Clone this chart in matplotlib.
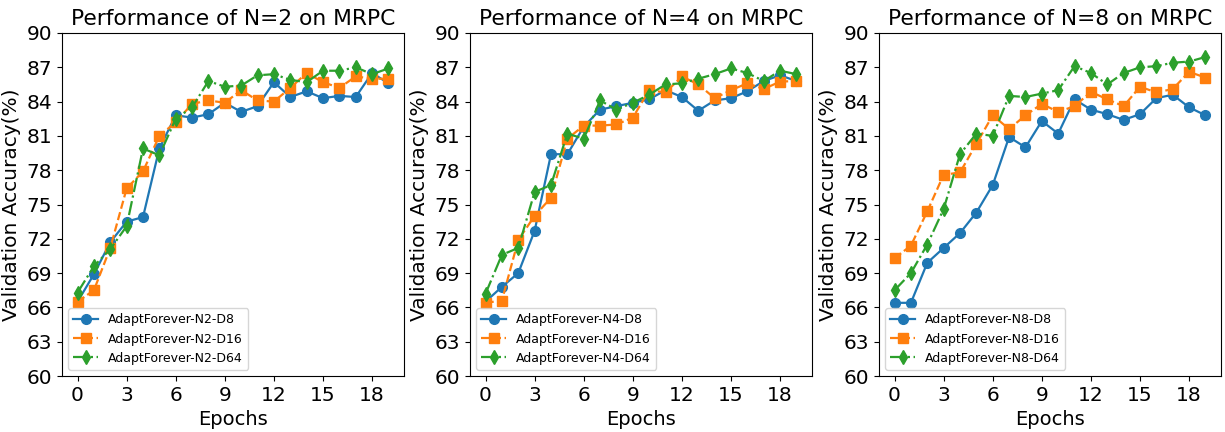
import numpy as np
import matplotlib
matplotlib.use("Agg")
import matplotlib.pyplot as plt

epochs = list(range(20))

n2_d8 = [66.5, 68.9, 71.7, 73.5, 73.9, 79.9, 82.8, 82.6, 82.9, 83.9,
         83.1, 83.6, 85.7, 84.4, 84.9, 84.3, 84.5, 84.4, 86.5, 85.6]
n2_d16 = [66.5, 67.5, 71.2, 76.4, 77.9, 81.0, 82.2, 83.8, 84.1, 83.9,
          85.0, 84.1, 84.0, 85.2, 86.5, 85.7, 85.2, 86.2, 86.0, 86.0]
n2_d64 = [67.3, 69.6, 71.1, 73.1, 79.9, 79.3, 82.5, 83.5, 85.8, 85.3,
          85.4, 86.3, 86.4, 85.9, 85.7, 86.7, 86.7, 87.0, 86.4, 86.9]

n4_d8 = [66.5, 67.8, 69.0, 72.7, 79.4, 79.4, 81.8, 83.3, 83.6, 83.9,
         84.2, 85.0, 84.4, 83.2, 84.1, 84.3, 84.9, 85.8, 86.3, 85.8]
n4_d16 = [66.4, 66.6, 71.9, 74.0, 75.6, 80.75, 81.9, 81.9, 82.0, 82.6,
          85.0, 84.8, 86.2, 85.5, 84.3, 85.0, 85.6, 85.1, 85.75, 85.8]
n4_d64 = [67.2, 70.6, 71.2, 76.1, 76.7, 81.2, 80.75, 84.1, 83.3, 83.9,
          84.6, 85.5, 85.6, 86.0, 86.4, 86.9, 86.5, 85.8, 86.7, 86.4]

n8_d8 = [66.4, 66.4, 69.9, 71.2, 72.5, 74.3, 76.7, 80.9, 80.0, 82.3,
         81.2, 84.2, 83.3, 82.9, 82.4, 82.9, 84.3, 84.6, 83.5, 82.8]
n8_d16 = [70.3, 71.4, 74.4, 77.6, 77.8, 80.3, 82.8, 81.6, 82.8, 83.8,
          83.1, 83.6, 84.85, 84.2, 83.6, 85.3, 84.8, 85.1, 86.6, 86.1]
n8_d64 = [67.5, 69.0, 71.5, 74.6, 79.4, 81.2, 81.0, 84.5, 84.4, 84.7,
          85.0, 87.1, 86.5, 85.5, 86.5, 87.0, 87.1, 87.4, 87.5, 87.9]

panels = [
    (2, n2_d8, n2_d16, n2_d64),
    (4, n4_d8, n4_d16, n4_d64),
    (8, n8_d8, n8_d16, n8_d64),
]

fig = plt.figure(figsize=(12.25, 4.32), dpi=100)
lefts = [62, 470, 879]
for left, (n, d8, d16, d64) in zip(lefts, panels):
    ax = fig.add_axes([left / 1225, 56 / 432, 342 / 1225, 343 / 432])
    ax.plot(epochs, d8, "o-", color="tab:blue", lw=1.6, ms=7,
            label=f"AdaptForever-N{n}-D8")
    ax.plot(epochs, d16, "s--", color="tab:orange", lw=1.6, ms=7,
            label=f"AdaptForever-N{n}-D16")
    ax.plot(epochs, d64, "d-.", color="tab:green", lw=1.6, ms=7,
            label=f"AdaptForever-N{n}-D64")
    ax.set_ylim(60, 90)
    ax.set_yticks(range(60, 91, 3))
    ax.set_xticks(range(0, 19, 3))
    ax.set_xlim(-0.95, 19.95)
    ax.tick_params(labelsize=14.5)
    ax.set_xlabel("Epochs", fontsize=14)
    ax.set_ylabel("Validation Accuracy(%)", fontsize=14.5)
    ax.set_title(f"Performance of N={n} on MRPC", fontsize=15.7)
    ax.legend(loc="lower left", fontsize=9)

fig.savefig("out.png", dpi=100)
